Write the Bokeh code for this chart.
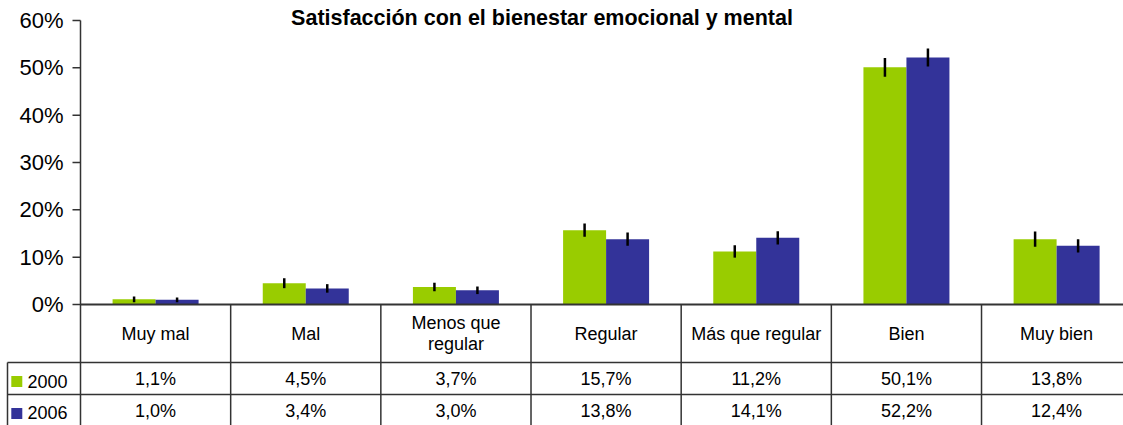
from bokeh.plotting import figure
from bokeh.models import Range1d
from bokeh.core.properties import value
from bokeh.embed import file_html
from bokeh.resources import INLINE

# ---------------- data ----------------
categories = ["Muy mal", "Mal", "Menos que\nregular", "Regular", "Más que regular", "Bien", "Muy bien"]
series_names = ["2000", "2006"]
values_2000 = [1.1, 4.5, 3.7, 15.7, 11.2, 50.1, 13.8]
values_2006 = [1.0, 3.4, 3.0, 13.8, 14.1, 52.2, 12.4]
err_2000 = [0.6, 1.05, 0.9, 1.4, 1.3, 2.0, 1.6]
err_2006 = [0.5, 0.9, 0.8, 1.4, 1.4, 1.9, 1.4]
y_ticks = [0, 10, 20, 30, 40, 50, 60]
y_tick_labels = [f"{v}%" for v in y_ticks]
title_text = "Satisfacción con el bienestar emocional y mental"
colors = ["#99CC00", "#333399"]

# ---------------- layout helpers (pixel -> data) ----------------
W, H = 1123, 425
OFF = 0               # figure origin in the screenshot
X0_PX = 80            # image x of the value axis
CAT_PX = 150.17       # width of one category, px
Y0_PX = 304           # image y of 0 %
PCT_PX = 4.7333       # px per percent


def xd(px):
    return (px - X0_PX) / CAT_PX


def yd(py):
    return (Y0_PX - py) / PCT_PX


FONT = value("Liberation Sans")
LINE = "#333333"

p = figure(width=W, height=H, x_range=Range1d(xd(OFF), xd(OFF + W)),
           y_range=Range1d(yd(OFF + H), yd(OFF)),
           x_axis_type=None, y_axis_type=None, toolbar_location=None,
           output_backend="svg", min_border=0)
p.outline_line_color = None
p.grid.visible = False
p.background_fill_color = "white"
p.border_fill_color = "white"

n = len(categories)
bw = 43 / CAT_PX
centers = [i + 0.5 for i in range(n)]
x_a = [c - bw / 2 for c in centers]
x_b = [c + bw / 2 for c in centers]

# bars
p.vbar(x=x_a, top=values_2000, bottom=0, width=bw, fill_color=colors[0], line_color=None)
p.vbar(x=x_b, top=values_2006, bottom=0, width=bw, fill_color=colors[1], line_color=None)

# error bars
p.segment(x0=x_a, x1=x_a, y0=[v - e for v, e in zip(values_2000, err_2000)],
          y1=[v + e for v, e in zip(values_2000, err_2000)], line_color="black", line_width=2.5)
p.segment(x0=x_b, x1=x_b, y0=[v - e for v, e in zip(values_2006, err_2006)],
          y1=[v + e for v, e in zip(values_2006, err_2006)], line_color="black", line_width=2.5)

# value axis: line, ticks, labels
p.segment(x0=[0], x1=[0], y0=[y_ticks[-1]], y1=[yd(OFF + H)], line_color=LINE, line_width=1.5)
p.segment(x0=[xd(72)] * len(y_ticks), x1=[0] * len(y_ticks), y0=y_ticks, y1=y_ticks,
          line_color=LINE, line_width=1.5)
p.text(x=[xd(63)] * len(y_ticks), y=y_ticks, text=y_tick_labels, text_align="right",
       text_baseline="middle", text_font=FONT, text_font_size="22px", text_color="black")

# table grid
x_end = xd(OFF + W)
p.segment(x0=[0], x1=[x_end], y0=[0], y1=[0], line_color=LINE, line_width=2)
row_lines = [yd(362), yd(394)]
p.segment(x0=[xd(7)] * 2, x1=[x_end] * 2, y0=row_lines, y1=row_lines, line_color=LINE, line_width=1.5)
bounds = list(range(1, n))
p.segment(x0=bounds, x1=bounds, y0=[0] * len(bounds), y1=[yd(OFF + H)] * len(bounds),
          line_color=LINE, line_width=1.5)
p.segment(x0=[xd(7)], x1=[xd(7)], y0=[yd(362)], y1=[yd(OFF + H)], line_color=LINE, line_width=1.5)

# header row (categories)
p.text(x=centers, y=[yd(333)] * n, text=categories, text_align="center", text_baseline="middle",
       text_font=FONT, text_font_size="18px", text_color="black", text_line_height=1.05)

# data rows
fmt = lambda v: f"{v:.1f}".replace(".", ",") + "%"
p.text(x=centers, y=[yd(378.5)] * n, text=[fmt(v) for v in values_2000], text_align="center",
       text_baseline="middle", text_font=FONT, text_font_size="18px", text_color="black")
p.text(x=centers, y=[yd(410.5)] * n, text=[fmt(v) for v in values_2006], text_align="center",
       text_baseline="middle", text_font=FONT, text_font_size="18px", text_color="black")

# legend keys in the table
p.rect(x=[xd(16.3)] * 2, y=[yd(381), yd(413)], width=11, height=11, width_units="screen",
       height_units="screen", fill_color=colors, line_color=None)
p.text(x=[xd(27)] * 2, y=[yd(380.5), yd(411.5)], text=series_names, text_align="left",
       text_baseline="middle", text_font=FONT, text_font_size="18px", text_color="black")

# title
p.text(x=[xd(541.5)], y=[yd(17)], text=[title_text], text_align="center", text_baseline="alphabetic",
       text_font=FONT, text_font_size="21.5px", text_font_style="bold", text_color="black")

open("out.html", "w").write(file_html(p, INLINE))
